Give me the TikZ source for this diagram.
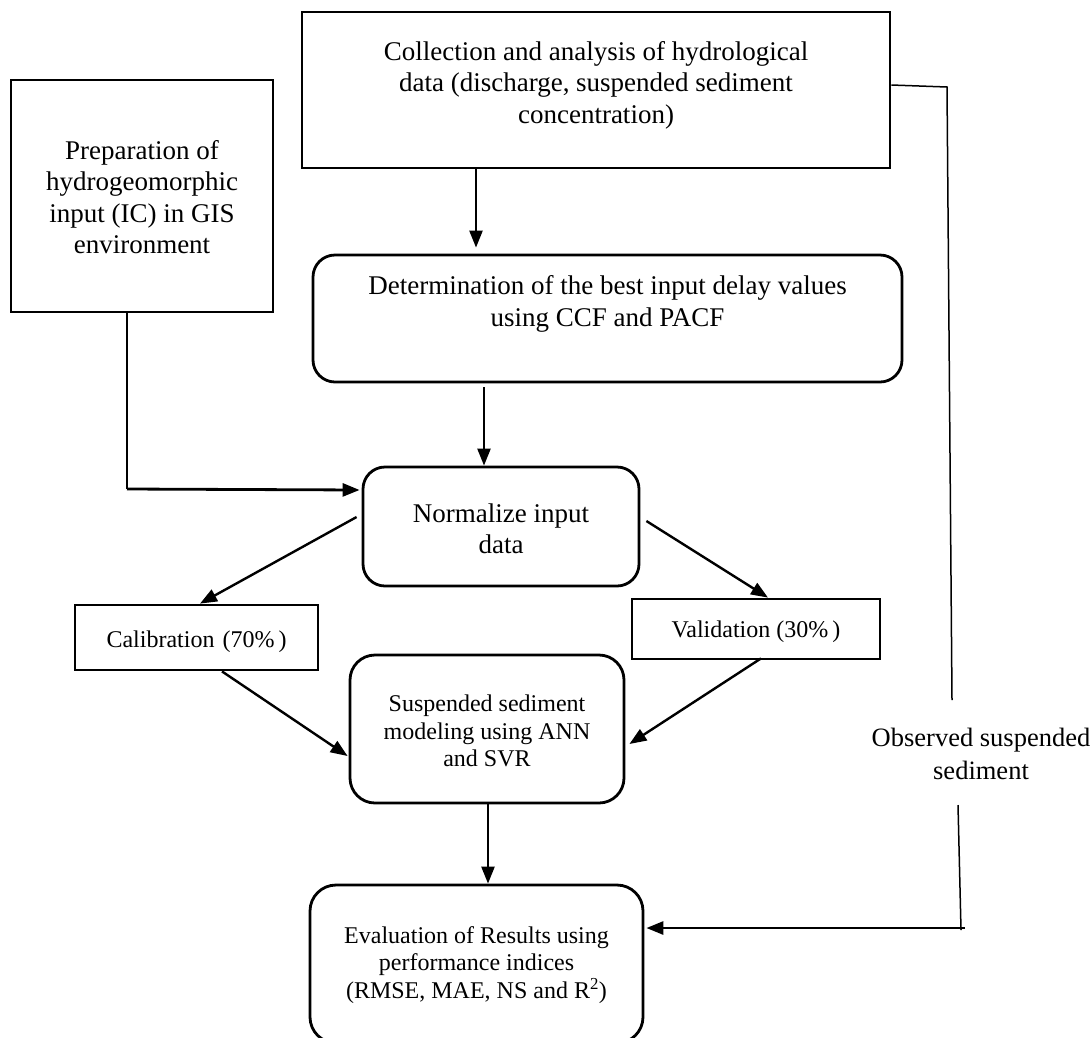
\documentclass[tikz,border=0pt]{standalone}
\usepackage{fontspec}
\setmainfont{Liberation Serif}
\usetikzlibrary{arrows.meta}
\begin{document}
\begin{tikzpicture}[x=1pt,y=-1pt,
  box/.style={draw, line width=2.8pt, inner sep=0pt},
  rbox/.style={box, rounded corners=22pt},
  big/.style={align=center, inner sep=0pt, font=\fontsize{27}{31.5}\selectfont},
  small/.style={align=center, inner sep=0pt, font=\fontsize{24}{27.5}\selectfont},
  obs/.style={align=center, inner sep=0pt, font=\fontsize{26.5}{33}\selectfont},
  arr/.style={-{Triangle[length=17pt,width=13pt]}, line width=2.4pt},
  arrthick/.style={-{Triangle[length=17pt,width=13pt]}, line width=2.8pt},
  thinline/.style={line width=1.5pt}]
\useasboundingbox (0,0) rectangle (1091,1037);

% boxes
\node[box, minimum width=588pt, minimum height=156pt] (top) at (596,90) {};
\node[big] (toptext) at (596,85) {Collection and analysis of hydrological\\data (discharge, suspended sediment\\concentration)};

\node[box, minimum width=262pt, minimum height=232pt] (prep) at (142,196) {};
\node[big] (preptext) at (142,197) {Preparation of\\hydrogeomorphic\\input (IC) in GIS\\environment};

\node[rbox, minimum width=589pt, minimum height=127pt] (det) at (607.5,318.5) {};
\node[big] (dettext) at (607.5,304) {Determination of the best input delay values\\using CCF and PACF};

\node[rbox, minimum width=276pt, minimum height=119pt] (norm) at (501,526.5) {};
\node[big] (normtext) at (501,529) {Normalize input\\data};

\node[box, minimum width=243pt, minimum height=65pt] (calib) at (196.5,637.5) {};
\node[small] (calibtext) at (196.5,642) {Calibration\,\,(70\%\,)};

\node[box, minimum width=248pt, minimum height=60pt] (valid) at (756,629) {};
\node[small] (validtext) at (756,632) {Validation (30\%\,)};

\node[rbox, rounded corners=25pt, minimum width=274pt, minimum height=148pt] (susp) at (487,729) {};
\node[small] (susptext) at (487,731) {Suspended sediment\\modeling using ANN\\and SVR};

\node[rbox, rounded corners=26pt, minimum width=333pt, minimum height=158pt] (eval) at (476.5,964) {};
\node[small] (evaltext) at (476.5,965) {Evaluation of Results using\\performance indices\\(RMSE, MAE, NS and R\textsuperscript{2})};

\node[obs] (obstext) at (981,754) {Observed suspended\\sediment};

% coordinates for free line ends
\coordinate (cL) at (127,489);
\coordinate (r1) at (947,87);
\coordinate (r2) at (952,700);
\coordinate (r3) at (958,805);
\coordinate (r4) at (961,930);
\coordinate (r5) at (965,928);

% connectors
\draw[arr, shorten >=6pt] ([xshift=-120pt]top.south) -- ([xshift=-131.5pt]det.north);
\draw[arr, shorten <=4pt] ([xshift=-123.5pt]det.south) -- ([xshift=-17pt]norm.north);
\draw[thinline] ([xshift=-15pt]prep.south) -- (cL);
\draw[arrthick, shorten >=2pt] (cL) -- ([yshift=36.5pt]norm.west);
\draw[arr] ([xshift=-5pt,yshift=9.5pt]norm.west) -- ([xshift=3.5pt]calib.north);
\draw[arr] ([xshift=6pt,yshift=5.5pt]norm.east) -- ([xshift=12pt]valid.north);
\draw[arr] ([xshift=25.5pt]calib.south) -- ([xshift=-1pt,yshift=-27pt]susp.west);
\draw[arr] ([xshift=5pt,yshift=2pt]valid.south) -- ([xshift=4pt,yshift=-15pt]susp.east);
\draw[arr] ([xshift=1pt]susp.south) -- ([xshift=11.5pt]eval.north);
\draw[thinline] ([yshift=5pt]top.east) -- (r1) -- (r2);
\draw[thinline] (r3) -- (r4);
\draw[arrthick] (r5) -- ([xshift=2pt,yshift=36pt]eval.east);
\end{tikzpicture}
\end{document}
